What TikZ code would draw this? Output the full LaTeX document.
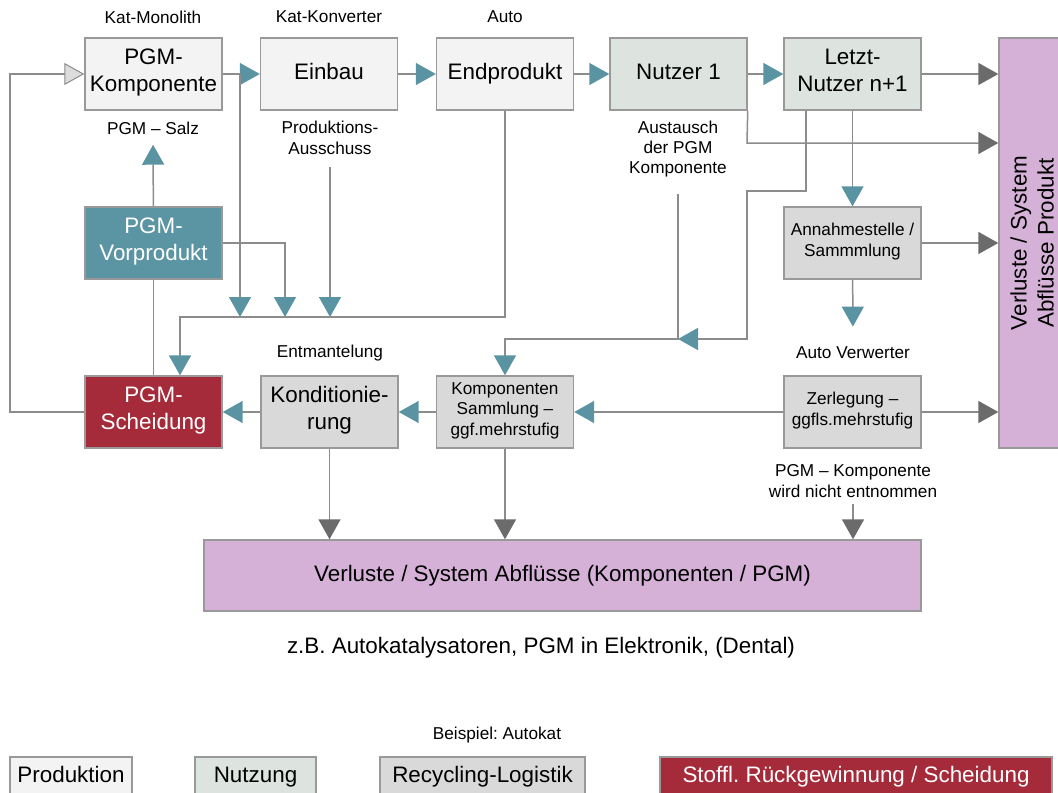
\documentclass[tikz,border=0pt]{standalone}
\usepackage{fontspec}
\setmainfont{Liberation Sans}
\usetikzlibrary{arrows.meta}
\definecolor{prodfill}{HTML}{F3F3F3}
\definecolor{nutzfill}{HTML}{DDE4E0}
\definecolor{recyfill}{HTML}{D9D9D9}
\definecolor{vorfill}{HTML}{5B95A4}
\definecolor{scheidfill}{HTML}{A52B3B}
\definecolor{lossfill}{HTML}{D5B1D8}
\definecolor{boxline}{HTML}{999999}
\definecolor{linegray}{HTML}{8C8C8C}
\definecolor{tealtip}{HTML}{5A94A3}
\definecolor{graytip}{HTML}{6B6B6B}
\definecolor{lighttip}{HTML}{DCDCDC}
\newcommand{\lbig}{\fontsize{11.2}{13.5}\selectfont}
\newcommand{\lsmall}{\fontsize{8.6}{10.2}\selectfont}
\frenchspacing
\begin{document}
\begin{tikzpicture}
    [
    x=0.5pt,y=-0.5pt,
    box/.style={draw=boxline,line width=0.7pt,inner sep=0pt,align=center,minimum width=68.5pt,minimum height=36pt,font=\lbig,
      execute at begin node=\strut,execute at end node=\strut},
    prod/.style={box,fill=prodfill},
    nutz/.style={box,fill=nutzfill},
    recy/.style={box,fill=recyfill},
    loss/.style={draw=boxline,line width=0.7pt,fill=lossfill,inner sep=0pt},
    note/.style={inner sep=3pt,align=center,font=\lsmall},
    plain/.style={draw=linegray,line width=0.75pt},
    tarrow/.style={plain,-{Triangle[length=10pt,width=11pt,color=tealtip,fill=tealtip]}},
    garrow/.style={plain,-{Triangle[length=10pt,width=11pt,color=graytip,fill=graytip]}},
    larrow/.style={plain,-{Triangle[length=10pt,width=11pt,color=linegray,fill=lighttip,line width=0.5pt]}}
    ]
    \useasboundingbox (0,0) rectangle (1058,792);

    \node (komp) at (153.5,74) [prod] {PGM-\\Komponente};
    \node (einbau) at (329,74) [prod] {Einbau};
    \node (endprod) at (505,74) [prod] {Endprodukt};
    \node (nutzer) at (678.5,74) [nutz] {Nutzer 1};
    \node (letzt) at (852.5,74) [nutz] {Letzt-\\Nutzer n+1};
    \node (vorprod) at (153.5,243) [box,fill=vorfill,text=white] {PGM-\\Vorprodukt};
    \node (annahme) at (852.5,243) [recy,font=\lsmall] {Annahmestelle /\\Sammmlung};
    \node (scheid) at (153.5,412) [box,fill=scheidfill,text=white] {PGM-\\Scheidung};
    \node (kondit) at (329.5,412) [recy] {Konditionie-\\rung};
    \node (kompsam) at (505,412) [recy,font=\lsmall] {Komponenten\\Sammlung --\\ggf.mehrstufig};
    \node (zerleg) at (852.5,412) [recy,font=\lsmall] {Zerlegung --\\ggfls.mehrstufig};
    \node (verlprod) at (1035,243) [loss,minimum width=36pt,minimum height=205pt] {};
    \node (verlprodtext) at (1032,243) [rotate=90,align=center,font=\lbig,inner sep=0pt] {Verluste / System\\Abflüsse Produkt};
    \node (verlkomp) at (562.5,575.5) [loss,minimum width=358.5pt,minimum height=35.5pt,font=\lbig] {Verluste / System Abflüsse (Komponenten / PGM)};

    \node (monolith) at (153,17) [note] {Kat-Monolith};
    \node (konverter) at (329,17) [note] {Kat-Konverter};
    \node (auto) at (505,17) [note] {Auto};
    \node (salz) at (153,128) [note] {PGM -- Salz};
    \node (ausschuss) at (330,138) [note] {Produktions-\\Ausschuss};
    \node (austausch) at (678,149) [note] {Austausch\\der PGM\\Komponente};
    \node (entmantel) at (330,353) [note] {Entmantelung};
    \node (verwerter) at (853,353) [note] {Auto Verwerter};
    \node (entnommen) at (853,481) [note] {PGM -- Komponente\\wird nicht entnommen};
    \node (bsp) at (541,648) [font=\lbig] {z.B. Autokatalysatoren, PGM in Elektronik, (Dental)};

    \coordinate (rail) at (180,317);
    \coordinate (ast) at (240,74);
    \coordinate (vorab) at (285,317);
    \coordinate (loop) at (10,243);
    \coordinate (knick1) at (806,191);
    \coordinate (knick2) at (747,191);
    \coordinate (treff) at (678,339);
    \coordinate (nutzab) at (747,143);

    \draw [tarrow] (komp) to (einbau);
    \draw [tarrow] (einbau) to (endprod);
    \draw [tarrow] (endprod) to (nutzer);
    \draw [tarrow] (nutzer) to (letzt);
    \draw [garrow] (letzt) to (letzt -| verlprod.west);
    \draw [garrow] (nutzer.south east) -- (nutzab) -- (nutzab -| verlprod.west);
    \draw [garrow] (annahme) to (annahme -| verlprod.west);
    \draw [garrow] (zerleg) to (zerleg -| verlprod.west);
    \draw [tarrow] (letzt) to (annahme);
    \draw [tarrow, shorten >=7pt] (annahme) to (verwerter);
    \draw [tarrow, shorten >=2pt] (vorprod) to (salz);
    \draw [plain] (vorprod) to (scheid);
    \draw [tarrow] (ast) to (ast |- rail);
    \draw [tarrow] (vorprod) -| (vorab);
    \draw [tarrow, shorten <=3pt] (ausschuss) to (ausschuss |- rail);
    \draw [tarrow] (endprod) |- (rail) -- (rail |- scheid.north);
    \draw [tarrow] (knick1 |- letzt.south) -- (knick1) -- (knick2) -- (knick2 |- treff) -- (treff);
    \draw [tarrow, shorten <=5pt] (austausch) -- (treff) -| (kompsam);
    \draw [tarrow] (zerleg) to (kompsam);
    \draw [tarrow] (kompsam) to (kondit);
    \draw [tarrow] (kondit) to (scheid);
    \draw [larrow] (scheid) -| (loop) |- (komp);
    \draw [garrow] (kondit) to (kondit |- verlkomp.north);
    \draw [garrow] (kompsam) to (kompsam |- verlkomp.north);
    \draw [garrow] (entnommen) to (entnommen |- verlkomp.north);

    \node (autokat) at (497,735) [note] {Beispiel: Autokat};
    \node (legprod) at (71,777) [prod,minimum width=61pt,minimum height=20pt] {Produktion};
    \node (legnutz) at (255.5,777) [nutz,minimum width=60.5pt,minimum height=20pt] {Nutzung};
    \node (legrecy) at (482.5,777) [recy,minimum width=102.5pt,minimum height=20pt] {Recycling-Logistik};
    \node (legscheid) at (856,777) [box,fill=scheidfill,text=white,minimum width=196pt,minimum height=20pt] {Stoffl. Rückgewinnung / Scheidung};
  \end{tikzpicture}
\end{document}
